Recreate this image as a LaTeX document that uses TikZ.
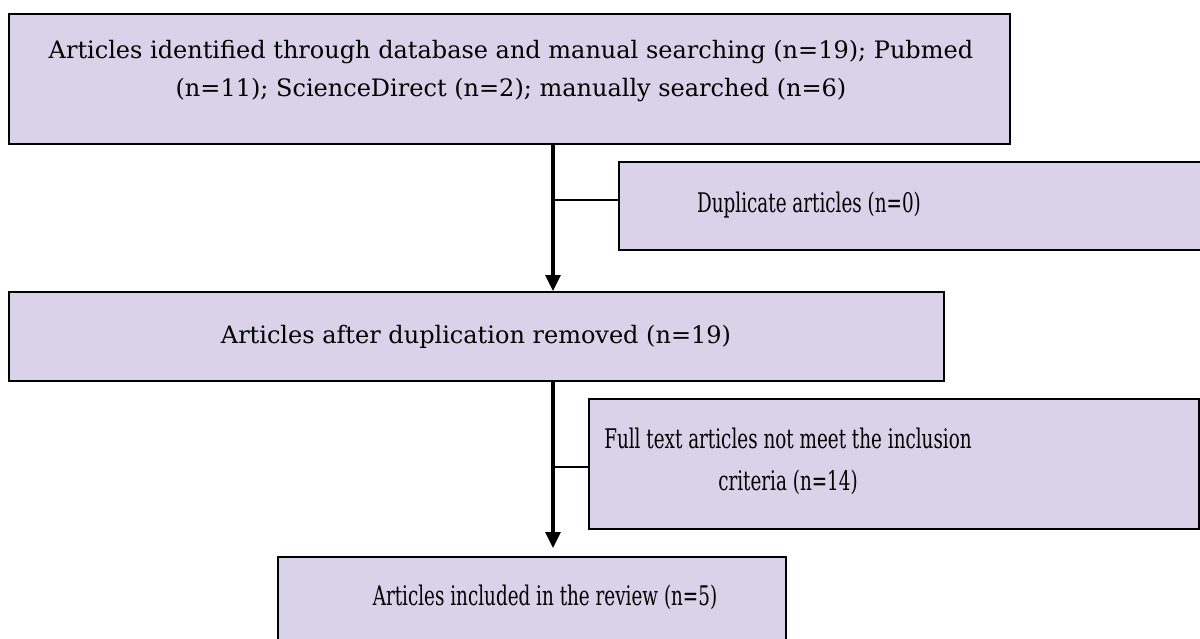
\documentclass[tikz,border=0pt]{standalone}
\usepackage{fontspec}
\setmainfont{DejaVu Serif}
\newfontfamily\narrowfont[FakeStretch=0.68]{DejaVu Serif}
\usetikzlibrary{arrows.meta}
\definecolor{boxfill}{RGB}{217,210,233}
\begin{document}
\begin{tikzpicture}[x=1pt,y=-1pt,
  box/.style={draw=black, line width=1.8pt, fill=boxfill, rectangle, anchor=north west, inner sep=0pt},
  lbl/.style={font=\fontsize{24}{38}\selectfont, align=center, inner sep=0pt},
  nlbl/.style={font=\narrowfont\fontsize{27}{42}\selectfont, align=center, inner sep=0pt},
  flow/.style={line width=3.2pt, -{Triangle[length=16pt,width=15pt]}},
  side/.style={line width=1.6pt}]
\clip (0,0) rectangle (1200,638);
\fill[white] (0,0) rectangle (1200,638);
% boxes
\node[box, minimum width=1001pt, minimum height=130pt] (b1) at (8,13) {};
\node[box, minimum width=600pt, minimum height=88pt] (b2) at (618,161) {};
\node[box, minimum width=935pt, minimum height=89pt] (b3) at (8,291) {};
\node[box, minimum width=610pt, minimum height=130pt] (b4) at (588,398) {};
\node[box, minimum width=508pt, minimum height=120pt] (b5) at (277,556) {};
% texts
\node[lbl] (t1) at (511,71) {Articles identified through database and manual searching (n=19); Pubmed\\(n=11); ScienceDirect (n=2); manually searched (n=6)};
\node[nlbl] (t2) at (809,205) {Duplicate articles (n=0)};
\node[lbl] (t3) at (476,337) {Articles after duplication removed (n=19)};
\node[nlbl] (t4) at (788,461) {Full text articles not meet the inclusion\\criteria (n=14)};
\node[nlbl] (t5) at (545,597) {Articles included in the review (n=5)};
% connectors
\coordinate (j1) at (553,200);
\coordinate (j2) at (553,467);
\draw[flow] (b1.south -| j1) -- (b3.north -| j1);
\draw[flow] (b3.south -| j2) -- ([yshift=8pt]b5.north -| j2);
\draw[side] (j1) -- (b2.west |- j1);
\draw[side] (j2) -- (b4.west |- j2);
\end{tikzpicture}
\end{document}
